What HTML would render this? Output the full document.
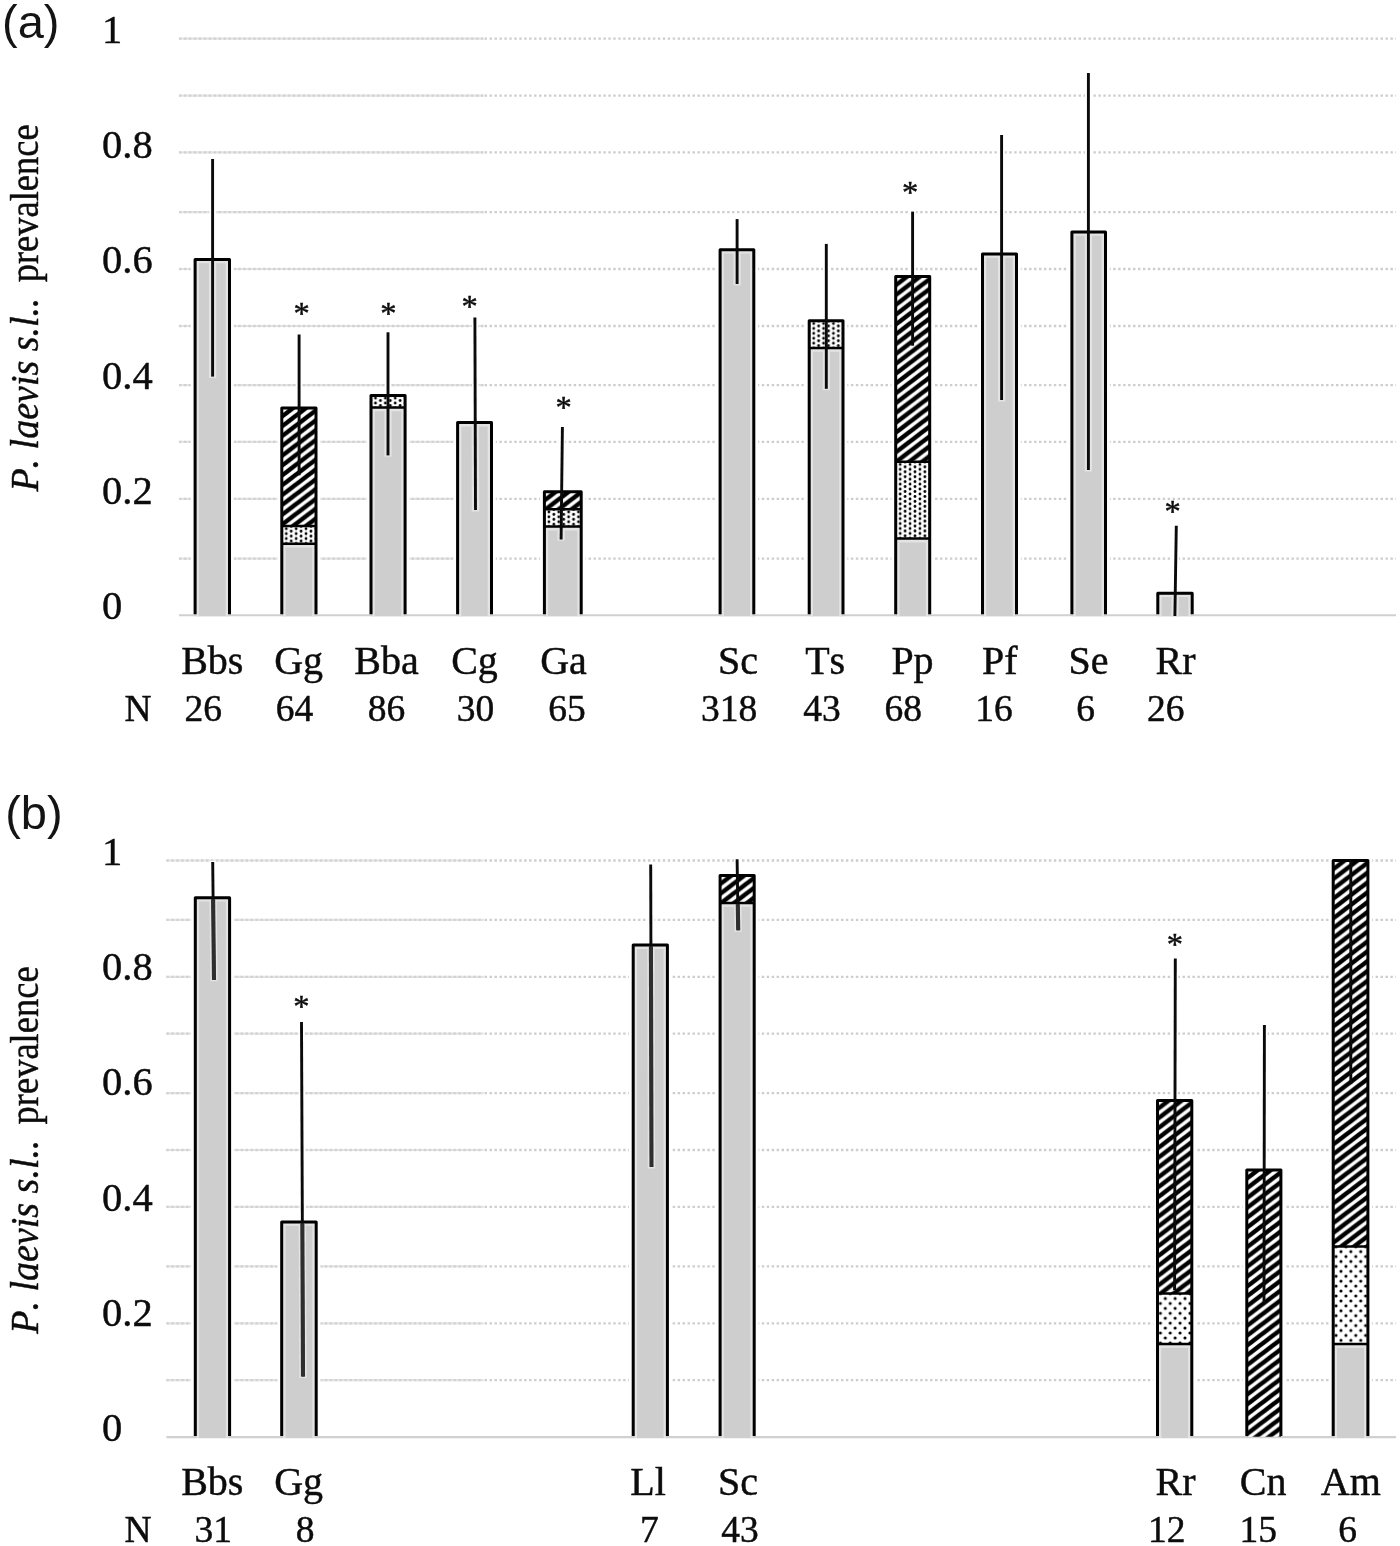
<!DOCTYPE html>
<html lang="en"><head><meta charset="utf-8"><title>P. laevis s.l. prevalence</title>
<style>
html,body{margin:0;padding:0;background:#fff;}
body{width:1400px;height:1546px;overflow:hidden;}
svg{display:block;}
text{font-family:"Liberation Serif",serif;fill:#0c0c0c;font-kerning:none;stroke:#0c0c0c;stroke-width:0.45px;}
.ss{font-family:"Liberation Sans",sans-serif;stroke:none;fill:#141414;}
</style></head><body>
<svg width="1400" height="1546" viewBox="0 0 1400 1546">
<defs>
<pattern id="dotsA" patternUnits="userSpaceOnUse" width="9.860" height="4.930">
<rect width="9.860" height="4.930" fill="#fff"/>
<circle cx="0.000" cy="0.000" r="1.42" fill="#000"/>
<circle cx="9.860" cy="0.000" r="1.42" fill="#000"/>
<circle cx="0.000" cy="4.930" r="1.42" fill="#000"/>
<circle cx="9.860" cy="4.930" r="1.42" fill="#000"/>
<circle cx="4.930" cy="2.465" r="1.42" fill="#000"/>
</pattern>
<pattern id="dotsB" patternUnits="userSpaceOnUse" width="9.860" height="9.860">
<rect width="9.860" height="9.860" fill="#fff"/>
<circle cx="0.000" cy="0.000" r="1.57" fill="#000"/>
<circle cx="9.860" cy="0.000" r="1.57" fill="#000"/>
<circle cx="0.000" cy="9.860" r="1.57" fill="#000"/>
<circle cx="9.860" cy="9.860" r="1.57" fill="#000"/>
<circle cx="4.930" cy="4.930" r="1.57" fill="#000"/>
</pattern>
<pattern id="hatch" patternUnits="userSpaceOnUse" width="12.930" height="9.830">
<rect width="12.930" height="9.830" fill="#fff"/>
<polygon points="0.000,-2.825 12.930,-12.655 12.930,-7.005 0.000,2.825" fill="#000"/>
<polygon points="0.000,7.005 12.930,-2.825 12.930,2.825 0.000,12.655" fill="#000"/>
<polygon points="0.000,16.835 12.930,7.005 12.930,12.655 0.000,22.485" fill="#000"/>
</pattern>
<pattern id="h1" href="#hatch" x="283.90" y="405.19"/>
<pattern id="d1" href="#dotsA" x="286.30" y="533.65"/>
<pattern id="d2" href="#dotsA" x="375.50" y="403.05"/>
<pattern id="h4" href="#hatch" x="546.50" y="488.99"/>
<pattern id="d4" href="#dotsA" x="548.90" y="516.85"/>
<pattern id="d6" href="#dotsA" x="813.70" y="328.45"/>
<pattern id="h7" href="#hatch" x="897.80" y="273.79"/>
<pattern id="d7" href="#dotsA" x="900.20" y="469.35"/>
<pattern id="h14" href="#hatch" x="722.20" y="872.69"/>
<pattern id="h15" href="#hatch" x="1159.60" y="1097.68"/>
<pattern id="d15" href="#dotsB" x="1165.30" y="1298.50"/>
<pattern id="h16" href="#hatch" x="1248.90" y="1167.09"/>
<pattern id="h17" href="#hatch" x="1335.30" y="857.79"/>
<pattern id="d17" href="#dotsB" x="1341.00" y="1251.60"/>
<filter id="soft" x="0" y="0" width="1400" height="1546" filterUnits="userSpaceOnUse" color-interpolation-filters="sRGB"><feGaussianBlur stdDeviation="0.5"/></filter>
</defs>
<rect width="1400" height="1546" fill="#fff"/>
<g id="chart" filter="url(#soft)">
<rect width="1400" height="1546" fill="#fff"/>
<g id="gridsoft-a" stroke="#e3e3e3" stroke-width="2.2">
<line x1="179.00" y1="38.60" x2="483.40" y2="38.60"/>
<line x1="179.00" y1="95.60" x2="483.40" y2="95.60"/>
<line x1="179.00" y1="152.30" x2="483.40" y2="152.30"/>
<line x1="179.00" y1="212.10" x2="483.40" y2="212.10"/>
<line x1="179.00" y1="269.00" x2="483.40" y2="269.00"/>
<line x1="179.00" y1="326.00" x2="483.40" y2="326.00"/>
<line x1="179.00" y1="385.20" x2="483.40" y2="385.20"/>
<line x1="179.00" y1="441.90" x2="483.40" y2="441.90"/>
<line x1="179.00" y1="498.90" x2="483.40" y2="498.90"/>
<line x1="179.00" y1="558.60" x2="483.40" y2="558.60"/>
</g>
<g id="grid-a" stroke="#cdcdcd" stroke-width="2.3" stroke-dasharray="2.4 2.55">
<line x1="179.00" y1="38.60" x2="483.40" y2="38.60" stroke="#d2d2d2"/>
<line x1="484.60" y1="38.60" x2="1396.00" y2="38.60"/>
<line x1="179.00" y1="95.60" x2="483.40" y2="95.60" stroke="#d2d2d2"/>
<line x1="484.60" y1="95.60" x2="1396.00" y2="95.60"/>
<line x1="179.00" y1="152.30" x2="483.40" y2="152.30" stroke="#d2d2d2"/>
<line x1="484.60" y1="152.30" x2="1396.00" y2="152.30"/>
<line x1="179.00" y1="212.10" x2="483.40" y2="212.10" stroke="#d2d2d2"/>
<line x1="484.60" y1="212.10" x2="1396.00" y2="212.10"/>
<line x1="179.00" y1="269.00" x2="483.40" y2="269.00" stroke="#d2d2d2"/>
<line x1="484.60" y1="269.00" x2="1396.00" y2="269.00"/>
<line x1="179.00" y1="326.00" x2="483.40" y2="326.00" stroke="#d2d2d2"/>
<line x1="484.60" y1="326.00" x2="1396.00" y2="326.00"/>
<line x1="179.00" y1="385.20" x2="483.40" y2="385.20" stroke="#d2d2d2"/>
<line x1="484.60" y1="385.20" x2="1396.00" y2="385.20"/>
<line x1="179.00" y1="441.90" x2="483.40" y2="441.90" stroke="#d2d2d2"/>
<line x1="484.60" y1="441.90" x2="1396.00" y2="441.90"/>
<line x1="179.00" y1="498.90" x2="483.40" y2="498.90" stroke="#d2d2d2"/>
<line x1="484.60" y1="498.90" x2="1396.00" y2="498.90"/>
<line x1="179.00" y1="558.60" x2="483.40" y2="558.60" stroke="#d2d2d2"/>
<line x1="484.60" y1="558.60" x2="1396.00" y2="558.60"/>
</g>
<g id="gridsoft-b" stroke="#e3e3e3" stroke-width="2.2">
<line x1="166.40" y1="860.50" x2="483.40" y2="860.50"/>
<line x1="166.40" y1="919.80" x2="483.40" y2="919.80"/>
<line x1="166.40" y1="976.80" x2="483.40" y2="976.80"/>
<line x1="166.40" y1="1033.70" x2="483.40" y2="1033.70"/>
<line x1="166.40" y1="1093.10" x2="483.40" y2="1093.10"/>
<line x1="166.40" y1="1150.00" x2="483.40" y2="1150.00"/>
<line x1="166.40" y1="1206.80" x2="483.40" y2="1206.80"/>
<line x1="166.40" y1="1266.30" x2="483.40" y2="1266.30"/>
<line x1="166.40" y1="1323.30" x2="483.40" y2="1323.30"/>
<line x1="166.40" y1="1380.20" x2="483.40" y2="1380.20"/>
</g>
<g id="grid-b" stroke="#cdcdcd" stroke-width="2.3" stroke-dasharray="2.4 2.55">
<line x1="166.40" y1="860.50" x2="483.40" y2="860.50" stroke="#d2d2d2"/>
<line x1="484.60" y1="860.50" x2="1396.00" y2="860.50"/>
<line x1="166.40" y1="919.80" x2="483.40" y2="919.80" stroke="#d2d2d2"/>
<line x1="484.60" y1="919.80" x2="1396.00" y2="919.80"/>
<line x1="166.40" y1="976.80" x2="483.40" y2="976.80" stroke="#d2d2d2"/>
<line x1="484.60" y1="976.80" x2="1396.00" y2="976.80"/>
<line x1="166.40" y1="1033.70" x2="483.40" y2="1033.70" stroke="#d2d2d2"/>
<line x1="484.60" y1="1033.70" x2="1396.00" y2="1033.70"/>
<line x1="166.40" y1="1093.10" x2="483.40" y2="1093.10" stroke="#d2d2d2"/>
<line x1="484.60" y1="1093.10" x2="1396.00" y2="1093.10"/>
<line x1="166.40" y1="1150.00" x2="483.40" y2="1150.00" stroke="#d2d2d2"/>
<line x1="484.60" y1="1150.00" x2="1396.00" y2="1150.00"/>
<line x1="166.40" y1="1206.80" x2="483.40" y2="1206.80" stroke="#d2d2d2"/>
<line x1="484.60" y1="1206.80" x2="1396.00" y2="1206.80"/>
<line x1="166.40" y1="1266.30" x2="483.40" y2="1266.30" stroke="#d2d2d2"/>
<line x1="484.60" y1="1266.30" x2="1396.00" y2="1266.30"/>
<line x1="166.40" y1="1323.30" x2="483.40" y2="1323.30" stroke="#d2d2d2"/>
<line x1="484.60" y1="1323.30" x2="1396.00" y2="1323.30"/>
<line x1="166.40" y1="1380.20" x2="483.40" y2="1380.20" stroke="#d2d2d2"/>
<line x1="484.60" y1="1380.20" x2="1396.00" y2="1380.20"/>
</g>
<g id="halo" fill="none" stroke="#fff">
<rect x="195.10" y="259.40" width="34.40" height="352.90" stroke-width="8.6"/>
<line x1="212.60" y1="158.00" x2="212.60" y2="259.40" stroke-width="6.5"/>
<rect x="281.80" y="408.00" width="34.20" height="204.30" stroke-width="8.6"/>
<line x1="299.10" y1="333.50" x2="299.10" y2="408.00" stroke-width="6.5"/>
<rect x="371.00" y="395.40" width="34.10" height="216.90" stroke-width="8.6"/>
<line x1="388.00" y1="331.30" x2="388.00" y2="395.40" stroke-width="6.5"/>
<rect x="457.60" y="422.60" width="33.90" height="189.70" stroke-width="8.6"/>
<line x1="474.90" y1="316.40" x2="475.50" y2="422.60" stroke-width="6.5"/>
<rect x="544.40" y="491.80" width="36.80" height="120.50" stroke-width="8.6"/>
<line x1="562.40" y1="425.90" x2="561.10" y2="491.80" stroke-width="6.5"/>
<rect x="720.10" y="249.70" width="33.70" height="362.60" stroke-width="8.6"/>
<line x1="737.10" y1="218.10" x2="737.10" y2="249.70" stroke-width="6.5"/>
<rect x="809.20" y="320.80" width="33.80" height="291.50" stroke-width="8.6"/>
<line x1="826.30" y1="242.90" x2="826.30" y2="320.80" stroke-width="6.5"/>
<rect x="895.70" y="276.60" width="34.00" height="335.70" stroke-width="8.6"/>
<line x1="912.60" y1="210.60" x2="912.60" y2="276.60" stroke-width="6.5"/>
<rect x="982.50" y="254.00" width="34.00" height="358.30" stroke-width="8.6"/>
<line x1="1001.60" y1="134.00" x2="1001.60" y2="254.00" stroke-width="6.5"/>
<rect x="1071.90" y="232.00" width="33.60" height="380.30" stroke-width="8.6"/>
<line x1="1088.40" y1="72.00" x2="1088.40" y2="232.00" stroke-width="6.5"/>
<rect x="1157.80" y="593.30" width="34.40" height="19.00" stroke-width="8.6"/>
<line x1="1176.30" y1="524.70" x2="1174.90" y2="593.30" stroke-width="6.5"/>
<rect x="195.30" y="897.80" width="34.30" height="536.30" stroke-width="8.6"/>
<line x1="212.70" y1="860.90" x2="214.00" y2="897.80" stroke-width="6.5"/>
<rect x="281.70" y="1222.00" width="34.50" height="212.10" stroke-width="8.6"/>
<line x1="301.50" y1="1021.00" x2="303.00" y2="1222.00" stroke-width="6.5"/>
<rect x="633.20" y="945.10" width="34.20" height="489.00" stroke-width="8.6"/>
<line x1="650.70" y1="863.60" x2="651.50" y2="945.10" stroke-width="6.5"/>
<rect x="720.10" y="875.50" width="34.10" height="558.60" stroke-width="8.6"/>
<line x1="737.10" y1="858.30" x2="738.20" y2="875.50" stroke-width="6.5"/>
<rect x="1157.50" y="1100.50" width="34.30" height="333.60" stroke-width="8.6"/>
<line x1="1175.30" y1="957.60" x2="1174.60" y2="1100.50" stroke-width="6.5"/>
<rect x="1246.80" y="1169.90" width="34.10" height="264.20" stroke-width="8.6"/>
<line x1="1264.40" y1="1024.10" x2="1264.00" y2="1169.90" stroke-width="6.5"/>
<rect x="1333.20" y="860.60" width="34.70" height="573.50" stroke-width="8.6"/>
<line x1="1350.80" y1="859.00" x2="1350.80" y2="860.60" stroke-width="6.5"/>
</g>
<line x1="179.00" y1="615.30" x2="1396.00" y2="615.30" stroke="#d0d0d0" stroke-width="2.1"/>
<line x1="166.40" y1="1437.10" x2="1396.00" y2="1437.10" stroke="#d0d0d0" stroke-width="2.1"/>
<g id="bars">
<rect x="195.10" y="259.40" width="34.40" height="356.80" fill="#cecece"/>
<path d="M197.70 616.20 V262.00 H226.90 V616.20" fill="none" stroke="#e3e3e3" stroke-width="2.4"/>
<line x1="212.60" y1="260.90" x2="212.60" y2="378.00" stroke="#e3e3e3" stroke-width="7.3"/>
<path d="M195.10 614.30 V259.40 H229.50 V614.30" fill="none" stroke="#000" stroke-width="3.0" stroke-linejoin="round"/>
<line x1="212.60" y1="159.00" x2="212.60" y2="376.60" stroke="#0a0a0a" stroke-width="2.9"/>
<rect x="281.80" y="543.80" width="34.20" height="72.40" fill="#cecece"/>
<path d="M284.40 616.20 V546.40 H313.40 V616.20" fill="none" stroke="#e3e3e3" stroke-width="2.4"/>
<rect x="281.80" y="526.00" width="34.20" height="17.80" fill="url(#d1)"/>
<rect x="281.80" y="408.00" width="34.20" height="118.00" fill="url(#h1)"/>
<line x1="281.80" y1="543.80" x2="316.00" y2="543.80" stroke="#000" stroke-width="2.5"/>
<line x1="281.80" y1="526.00" x2="316.00" y2="526.00" stroke="#000" stroke-width="2.5"/>
<path d="M281.80 614.30 V408.00 H316.00 V614.30" fill="none" stroke="#000" stroke-width="3.0" stroke-linejoin="round"/>
<line x1="299.10" y1="334.50" x2="299.10" y2="475.30" stroke="#0a0a0a" stroke-width="2.9"/>
<rect x="371.00" y="407.40" width="34.10" height="208.80" fill="#cecece"/>
<path d="M373.60 616.20 V410.00 H402.50 V616.20" fill="none" stroke="#e3e3e3" stroke-width="2.4"/>
<rect x="371.00" y="395.40" width="34.10" height="12.00" fill="url(#d2)"/>
<line x1="388.00" y1="408.90" x2="388.00" y2="456.80" stroke="#e3e3e3" stroke-width="7.3"/>
<line x1="371.00" y1="407.40" x2="405.10" y2="407.40" stroke="#000" stroke-width="2.5"/>
<path d="M371.00 614.30 V395.40 H405.10 V614.30" fill="none" stroke="#000" stroke-width="3.0" stroke-linejoin="round"/>
<line x1="388.00" y1="332.30" x2="388.00" y2="455.40" stroke="#0a0a0a" stroke-width="2.9"/>
<rect x="457.60" y="422.60" width="33.90" height="193.60" fill="#cecece"/>
<path d="M460.20 616.20 V425.20 H488.90 V616.20" fill="none" stroke="#e3e3e3" stroke-width="2.4"/>
<line x1="475.23" y1="424.10" x2="475.50" y2="511.50" stroke="#e3e3e3" stroke-width="7.3"/>
<path d="M457.60 614.30 V422.60 H491.50 V614.30" fill="none" stroke="#000" stroke-width="3.0" stroke-linejoin="round"/>
<line x1="474.90" y1="317.40" x2="475.50" y2="510.10" stroke="#0a0a0a" stroke-width="2.9"/>
<rect x="544.40" y="526.60" width="36.80" height="89.60" fill="#cecece"/>
<path d="M547.00 616.20 V529.20 H578.60 V616.20" fill="none" stroke="#e3e3e3" stroke-width="2.4"/>
<rect x="544.40" y="509.20" width="36.80" height="17.40" fill="url(#d4)"/>
<rect x="544.40" y="491.80" width="36.80" height="17.40" fill="url(#h4)"/>
<line x1="561.25" y1="528.10" x2="561.10" y2="540.80" stroke="#e3e3e3" stroke-width="7.3"/>
<line x1="544.40" y1="526.60" x2="581.20" y2="526.60" stroke="#000" stroke-width="2.5"/>
<line x1="544.40" y1="509.20" x2="581.20" y2="509.20" stroke="#000" stroke-width="2.5"/>
<path d="M544.40 614.30 V491.80 H581.20 V614.30" fill="none" stroke="#000" stroke-width="3.0" stroke-linejoin="round"/>
<line x1="562.40" y1="426.90" x2="561.10" y2="539.40" stroke="#0a0a0a" stroke-width="2.9"/>
<rect x="720.10" y="249.70" width="33.70" height="366.50" fill="#cecece"/>
<path d="M722.70 616.20 V252.30 H751.20 V616.20" fill="none" stroke="#e3e3e3" stroke-width="2.4"/>
<line x1="737.10" y1="251.20" x2="737.10" y2="285.40" stroke="#e3e3e3" stroke-width="7.3"/>
<path d="M720.10 614.30 V249.70 H753.80 V614.30" fill="none" stroke="#000" stroke-width="3.0" stroke-linejoin="round"/>
<line x1="737.10" y1="219.10" x2="737.10" y2="284.00" stroke="#0a0a0a" stroke-width="2.9"/>
<rect x="809.20" y="347.90" width="33.80" height="268.30" fill="#cecece"/>
<path d="M811.80 616.20 V350.50 H840.40 V616.20" fill="none" stroke="#e3e3e3" stroke-width="2.4"/>
<rect x="809.20" y="320.80" width="33.80" height="27.10" fill="url(#d6)"/>
<line x1="826.30" y1="349.40" x2="826.30" y2="390.20" stroke="#e3e3e3" stroke-width="7.3"/>
<line x1="809.20" y1="347.90" x2="843.00" y2="347.90" stroke="#000" stroke-width="2.5"/>
<path d="M809.20 614.30 V320.80 H843.00 V614.30" fill="none" stroke="#000" stroke-width="3.0" stroke-linejoin="round"/>
<line x1="826.30" y1="243.90" x2="826.30" y2="388.80" stroke="#0a0a0a" stroke-width="2.9"/>
<rect x="895.70" y="538.60" width="34.00" height="77.60" fill="#cecece"/>
<path d="M898.30 616.20 V541.20 H927.10 V616.20" fill="none" stroke="#e3e3e3" stroke-width="2.4"/>
<rect x="895.70" y="461.70" width="34.00" height="76.90" fill="url(#d7)"/>
<rect x="895.70" y="276.60" width="34.00" height="185.10" fill="url(#h7)"/>
<line x1="895.70" y1="538.60" x2="929.70" y2="538.60" stroke="#000" stroke-width="2.5"/>
<line x1="895.70" y1="461.70" x2="929.70" y2="461.70" stroke="#000" stroke-width="2.5"/>
<path d="M895.70 614.30 V276.60 H929.70 V614.30" fill="none" stroke="#000" stroke-width="3.0" stroke-linejoin="round"/>
<line x1="912.60" y1="211.60" x2="912.60" y2="345.70" stroke="#0a0a0a" stroke-width="2.9"/>
<rect x="982.50" y="254.00" width="34.00" height="362.20" fill="#cecece"/>
<path d="M985.10 616.20 V256.60 H1013.90 V616.20" fill="none" stroke="#e3e3e3" stroke-width="2.4"/>
<line x1="1001.60" y1="255.50" x2="1001.60" y2="401.40" stroke="#e3e3e3" stroke-width="7.3"/>
<path d="M982.50 614.30 V254.00 H1016.50 V614.30" fill="none" stroke="#000" stroke-width="3.0" stroke-linejoin="round"/>
<line x1="1001.60" y1="135.00" x2="1001.60" y2="400.00" stroke="#0a0a0a" stroke-width="2.9"/>
<rect x="1071.90" y="232.00" width="33.60" height="384.20" fill="#cecece"/>
<path d="M1074.50 616.20 V234.60 H1102.90 V616.20" fill="none" stroke="#e3e3e3" stroke-width="2.4"/>
<line x1="1088.40" y1="233.50" x2="1088.40" y2="471.40" stroke="#e3e3e3" stroke-width="7.3"/>
<path d="M1071.90 614.30 V232.00 H1105.50 V614.30" fill="none" stroke="#000" stroke-width="3.0" stroke-linejoin="round"/>
<line x1="1088.40" y1="73.00" x2="1088.40" y2="470.00" stroke="#0a0a0a" stroke-width="2.9"/>
<rect x="1157.80" y="593.30" width="34.40" height="22.90" fill="#cecece"/>
<path d="M1160.40 616.20 V595.90 H1189.60 V616.20" fill="none" stroke="#e3e3e3" stroke-width="2.4"/>
<line x1="1175.25" y1="594.80" x2="1174.91" y2="616.70" stroke="#e3e3e3" stroke-width="7.3"/>
<path d="M1157.80 614.30 V593.30 H1192.20 V614.30" fill="none" stroke="#000" stroke-width="3.0" stroke-linejoin="round"/>
<line x1="1176.30" y1="525.70" x2="1174.90" y2="616.00" stroke="#0a0a0a" stroke-width="2.9"/>
<rect x="195.30" y="897.80" width="34.30" height="540.20" fill="#cecece"/>
<path d="M197.90 1438.00 V900.40 H227.00 V1438.00" fill="none" stroke="#e3e3e3" stroke-width="2.4"/>
<line x1="213.10" y1="899.30" x2="214.00" y2="981.30" stroke="#e3e3e3" stroke-width="7.3"/>
<path d="M195.30 1436.10 V897.80 H229.60 V1436.10" fill="none" stroke="#000" stroke-width="3.0" stroke-linejoin="round"/>
<line x1="212.70" y1="861.90" x2="214.00" y2="979.90" stroke="#0a0a0a" stroke-width="2.9"/>
<line x1="213.11" y1="899.30" x2="214.00" y2="979.90" stroke="#2e2e2e" stroke-width="4.1"/>
<rect x="281.70" y="1222.00" width="34.50" height="216.00" fill="#cecece"/>
<path d="M284.30 1438.00 V1224.60 H313.60 V1438.00" fill="none" stroke="#e3e3e3" stroke-width="2.4"/>
<line x1="302.35" y1="1223.50" x2="303.00" y2="1377.90" stroke="#e3e3e3" stroke-width="7.3"/>
<path d="M281.70 1436.10 V1222.00 H316.20 V1436.10" fill="none" stroke="#000" stroke-width="3.0" stroke-linejoin="round"/>
<line x1="301.50" y1="1022.00" x2="303.00" y2="1376.50" stroke="#0a0a0a" stroke-width="2.9"/>
<line x1="302.35" y1="1223.50" x2="303.00" y2="1376.50" stroke="#2e2e2e" stroke-width="4.1"/>
<rect x="633.20" y="945.10" width="34.20" height="492.90" fill="#cecece"/>
<path d="M635.80 1438.00 V947.70 H664.80 V1438.00" fill="none" stroke="#e3e3e3" stroke-width="2.4"/>
<line x1="650.91" y1="946.60" x2="651.50" y2="1168.40" stroke="#e3e3e3" stroke-width="7.3"/>
<path d="M633.20 1436.10 V945.10 H667.40 V1436.10" fill="none" stroke="#000" stroke-width="3.0" stroke-linejoin="round"/>
<line x1="650.70" y1="864.60" x2="651.50" y2="1167.00" stroke="#0a0a0a" stroke-width="2.9"/>
<line x1="650.92" y1="946.60" x2="651.50" y2="1167.00" stroke="#2e2e2e" stroke-width="4.1"/>
<rect x="720.10" y="902.90" width="34.10" height="535.10" fill="#cecece"/>
<path d="M722.70 1438.00 V905.50 H751.60 V1438.00" fill="none" stroke="#e3e3e3" stroke-width="2.4"/>
<rect x="720.10" y="875.50" width="34.10" height="27.40" fill="url(#h14)"/>
<line x1="737.78" y1="904.40" x2="738.20" y2="931.70" stroke="#e3e3e3" stroke-width="7.3"/>
<line x1="720.10" y1="902.90" x2="754.20" y2="902.90" stroke="#000" stroke-width="2.5"/>
<path d="M720.10 1436.10 V875.50 H754.20 V1436.10" fill="none" stroke="#000" stroke-width="3.0" stroke-linejoin="round"/>
<line x1="737.10" y1="859.30" x2="738.20" y2="930.30" stroke="#0a0a0a" stroke-width="2.9"/>
<line x1="737.80" y1="904.40" x2="738.20" y2="930.30" stroke="#2e2e2e" stroke-width="4.1"/>
<rect x="1157.50" y="1343.90" width="34.30" height="94.10" fill="#cecece"/>
<path d="M1160.10 1438.00 V1346.50 H1189.20 V1438.00" fill="none" stroke="#e3e3e3" stroke-width="2.4"/>
<rect x="1157.50" y="1293.40" width="34.30" height="50.50" fill="url(#d15)"/>
<rect x="1157.50" y="1100.50" width="34.30" height="192.90" fill="url(#h15)"/>
<line x1="1157.50" y1="1343.90" x2="1191.80" y2="1343.90" stroke="#000" stroke-width="2.5"/>
<line x1="1157.50" y1="1293.40" x2="1191.80" y2="1293.40" stroke="#000" stroke-width="2.5"/>
<path d="M1157.50 1436.10 V1100.50 H1191.80 V1436.10" fill="none" stroke="#000" stroke-width="3.0" stroke-linejoin="round"/>
<line x1="1175.30" y1="958.60" x2="1174.60" y2="1290.00" stroke="#0a0a0a" stroke-width="2.9"/>
<rect x="1246.80" y="1169.90" width="34.10" height="266.80" fill="url(#h16)"/>
<path d="M1246.80 1436.10 V1169.90 H1280.90 V1436.10" fill="none" stroke="#000" stroke-width="3.0" stroke-linejoin="round"/>
<line x1="1264.40" y1="1025.10" x2="1264.00" y2="1303.40" stroke="#0a0a0a" stroke-width="2.9"/>
<rect x="1333.20" y="1343.90" width="34.70" height="94.10" fill="#cecece"/>
<path d="M1335.80 1438.00 V1346.50 H1365.30 V1438.00" fill="none" stroke="#e3e3e3" stroke-width="2.4"/>
<rect x="1333.20" y="1246.50" width="34.70" height="97.40" fill="url(#d17)"/>
<rect x="1333.20" y="860.60" width="34.70" height="385.90" fill="url(#h17)"/>
<line x1="1333.20" y1="1343.90" x2="1367.90" y2="1343.90" stroke="#000" stroke-width="2.5"/>
<line x1="1333.20" y1="1246.50" x2="1367.90" y2="1246.50" stroke="#000" stroke-width="2.5"/>
<path d="M1333.20 1436.10 V860.60 H1367.90 V1436.10" fill="none" stroke="#000" stroke-width="3.0" stroke-linejoin="round"/>
<line x1="1350.80" y1="860.00" x2="1350.80" y2="1084.00" stroke="#0a0a0a" stroke-width="2.9"/>
</g>
<g id="stars" font-size="32.5" text-anchor="middle" stroke-width="0.6">
<text x="301.7" y="324.4">*</text>
<text x="388.3" y="324.4">*</text>
<text x="469.7" y="316.7">*</text>
<text x="563.7" y="417.8">*</text>
<text x="910.2" y="203.2">*</text>
<text x="1172.6" y="522.2">*</text>
<text x="301.4" y="1017.0">*</text>
<text x="1174.9" y="955.2">*</text>
</g>
<g id="ticks" font-size="40.5">
<text x="102.0" y="42.6">1</text>
<text x="102.0" y="158.0">0.8</text>
<text x="102.0" y="273.3">0.6</text>
<text x="102.0" y="388.7">0.4</text>
<text x="102.0" y="504.0">0.2</text>
<text x="102.0" y="619.4">0</text>
<text x="102.0" y="864.6">1</text>
<text x="102.0" y="979.9">0.8</text>
<text x="102.0" y="1095.2">0.6</text>
<text x="102.0" y="1210.5">0.4</text>
<text x="102.0" y="1325.8">0.2</text>
<text x="102.0" y="1441.1">0</text>
</g>
<g id="cats" font-size="40" text-anchor="middle">
<text x="212.3" y="673.5">Bbs</text>
<text x="298.6" y="673.5">Gg</text>
<text x="386.5" y="673.5">Bba</text>
<text x="474.5" y="673.5">Cg</text>
<text x="563.5" y="673.5">Ga</text>
<text x="738.0" y="673.5">Sc</text>
<text x="825.2" y="673.5">Ts</text>
<text x="912.5" y="673.5">Pp</text>
<text x="999.8" y="673.5">Pf</text>
<text x="1088.5" y="673.5">Se</text>
<text x="1175.5" y="673.5">Rr</text>
<text x="212.3" y="1495.3">Bbs</text>
<text x="298.6" y="1495.3">Gg</text>
<text x="648.0" y="1495.3">Ll</text>
<text x="738.0" y="1495.3">Sc</text>
<text x="1175.5" y="1495.3">Rr</text>
<text x="1263.2" y="1495.3">Cn</text>
<text x="1350.8" y="1495.3">Am</text>
</g>
<g id="ns" font-size="37.5" text-anchor="middle">
<text x="138" y="720.6">N</text>
<text x="138" y="1542.4">N</text>
<text x="203.3" y="720.6">26</text>
<text x="294.5" y="720.6">64</text>
<text x="386.4" y="720.6">86</text>
<text x="475.6" y="720.6">30</text>
<text x="566.9" y="720.6">65</text>
<text x="729.0" y="720.6">318</text>
<text x="822.0" y="720.6">43</text>
<text x="903.3" y="720.6">68</text>
<text x="994.0" y="720.6">16</text>
<text x="1085.6" y="720.6">6</text>
<text x="1165.7" y="720.6">26</text>
<text x="213.2" y="1542.4">31</text>
<text x="305.0" y="1542.4">8</text>
<text x="649.4" y="1542.4">7</text>
<text x="740.1" y="1542.4">43</text>
<text x="1166.7" y="1542.4">12</text>
<text x="1258.2" y="1542.4">15</text>
<text x="1347.5" y="1542.4">6</text>
</g>
<g id="titles" font-size="39.5">
<text transform="translate(37.5 491.6) rotate(-90) scale(0.962 1)" font-style="italic">P. laevis s.l.</text>
<text transform="translate(37.5 308.2) rotate(-90) scale(0.962 1)">.</text>
<text transform="translate(37.5 282.3) rotate(-90) scale(0.924 1)">prevalence</text>
<text transform="translate(37.5 1333.7) rotate(-90) scale(0.962 1)" font-style="italic">P. laevis s.l.</text>
<text transform="translate(37.5 1150.3) rotate(-90) scale(0.962 1)">.</text>
<text transform="translate(37.5 1124.4) rotate(-90) scale(0.924 1)">prevalence</text>
</g>
<g id="panel" font-size="47">
<text class="ss" x="2" y="38.2">(a)</text>
<text class="ss" x="5.2" y="829.1">(b)</text>
</g>
</g>
</svg></body></html>
